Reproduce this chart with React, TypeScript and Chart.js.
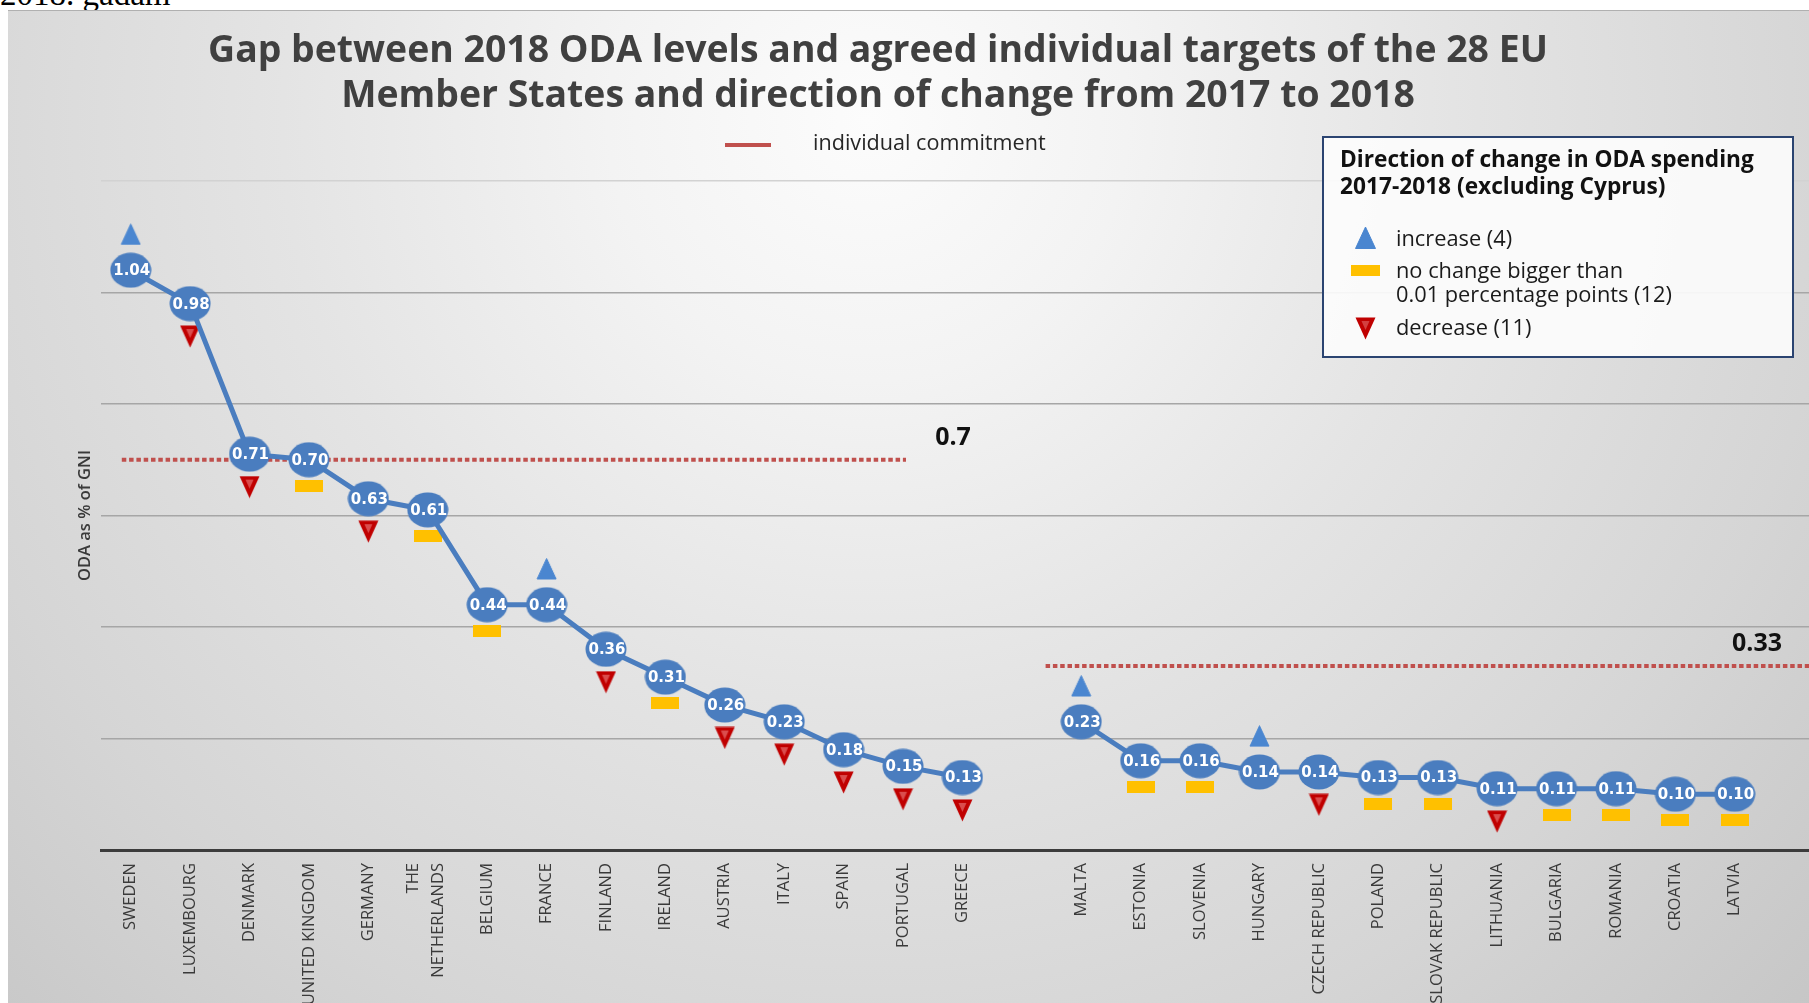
import React, { useEffect, useRef } from 'react';
import { Chart, registerables } from 'chart.js';

Chart.register(...registerables);

// ---------- data ----------
const countries: (string | string[])[] = [
  'SWEDEN', 'LUXEMBOURG', 'DENMARK', 'UNITED KINGDOM', 'GERMANY', ['THE', 'NETHERLANDS'], 'BELGIUM',
  'FRANCE', 'FINLAND', 'IRELAND', 'AUSTRIA', 'ITALY', 'SPAIN', 'PORTUGAL', 'GREECE', '',
  'MALTA', 'ESTONIA', 'SLOVENIA', 'HUNGARY', 'CZECH REPUBLIC', 'POLAND', 'SLOVAK REPUBLIC',
  'LITHUANIA', 'BULGARIA', 'ROMANIA', 'CROATIA', 'LATVIA',
];
const odaValues: (number | null)[] = [
  1.04, 0.98, 0.71, 0.70, 0.63, 0.61, 0.44, 0.44, 0.36, 0.31, 0.26, 0.23, 0.18, 0.15, 0.13, null,
  0.23, 0.16, 0.16, 0.14, 0.14, 0.13, 0.13, 0.11, 0.11, 0.11, 0.10, 0.10,
];
const changeDirection: (string | null)[] = [
  'up', 'down', 'down', 'flat', 'down', 'flat', 'flat', 'up', 'down', 'flat', 'down', 'down', 'down', 'down', 'down', null,
  'up', 'flat', 'flat', 'up', 'down', 'flat', 'flat', 'down', 'flat', 'flat', 'flat', 'flat',
];
const commitmentLevels = [0.7, 0.33];
const commitmentRanges = [[-0.15, 13.05], [15.4, 28.5]];
const commitmentLabels = ['0.7', '0.33'];
const yTicks = { min: 0, max: 1.2, step: 0.2 };

const titleLines = [
  'Gap between 2018 ODA levels and agreed individual targets of the 28 EU',
  'Member States and direction of change from 2017 to 2018',
];
const directionLegendTitle = ['Direction of change in ODA spending', '2017-2018 (excluding Cyprus)'];
const countOf = (d: string) => changeDirection.filter((x) => x === d).length;

// ---------- style ----------
const BLUE = '#4a7dbf';
const RED_LINE = '#c0504d';
const FONT = '"Open Sans", "DejaVu Sans", sans-serif';
const MARKER_OFFSET: Record<string, number> = { up: 0.065, down: -0.059, flat: -0.047 };
const MULTILINE_TICK_SHIFT = 0.236;

function makeCanvas(w: number, h: number, draw: (c: CanvasRenderingContext2D) => void) {
  const c = document.createElement('canvas');
  c.width = w;
  c.height = h;
  draw(c.getContext('2d') as CanvasRenderingContext2D);
  return c;
}

function UpTri({ x, y }: { x: number; y: number }) {
  return (
    <svg style={{ position: 'absolute', left: x - 10.5, top: y - 11.5 }} width={21} height={23}>
      <polygon points="10.5,1 20.5,22.5 0.5,22.5" fill="#4a86d0" stroke="#4a86d0" strokeLinejoin="round" strokeWidth={1} />
    </svg>
  );
}
function DownTri({ x, y }: { x: number; y: number }) {
  return (
    <svg style={{ position: 'absolute', left: x - 10.5, top: y - 11.5 }} width={21} height={23}>
      <polygon points="0.5,0.5 20.5,0.5 10.5,22.5" fill="#c00000" />
      <polygon points="6.5,4 14.5,4 10.5,13" fill="#dc5a5a" opacity={0.7} />
    </svg>
  );
}

export default function App() {
  const ref = useRef<HTMLCanvasElement>(null);

  useEffect(() => {
    document.documentElement.style.overflow = 'hidden';
    const canvas = ref.current;
    if (!canvas) return;

    const ellipseImg = makeCanvas(42, 36, (c) => {
      c.fillStyle = BLUE;
      c.beginPath();
      c.ellipse(21, 18, 20.5, 17.5, 0, 0, Math.PI * 2);
      c.fill();
    });
    const upImg = makeCanvas(21, 23, (c) => {
      c.fillStyle = '#4a86d0';
      c.strokeStyle = '#4a86d0';
      c.lineJoin = 'round';
      c.beginPath();
      c.moveTo(10.5, 1.5);
      c.lineTo(20, 22);
      c.lineTo(1, 22);
      c.closePath();
      c.fill();
      c.stroke();
    });
    const downImg = makeCanvas(21, 23, (c) => {
      c.fillStyle = '#c00000';
      c.beginPath();
      c.moveTo(0.5, 0.5);
      c.lineTo(20.5, 0.5);
      c.lineTo(10.5, 22.5);
      c.closePath();
      c.fill();
      c.fillStyle = 'rgba(230,110,110,0.7)';
      c.beginPath();
      c.moveTo(6.5, 4);
      c.lineTo(14.5, 4);
      c.lineTo(10.5, 13);
      c.closePath();
      c.fill();
    });
    const flatImg = makeCanvas(28, 12, (c) => {
      c.fillStyle = '#ffc000';
      c.fillRect(0, 0, 28, 12);
    });
    const markerImg: Record<string, HTMLCanvasElement> = { up: upImg, down: downImg, flat: flatImg };

    const bgPlugin = {
      id: 'bg',
      beforeDraw(chart: any) {
        const { ctx, width, height } = chart;
        const g = ctx.createRadialGradient(860, 110, 0, 860, 110, 1300);
        g.addColorStop(0, '#fcfcfc');
        g.addColorStop(0.2, '#f3f3f3');
        g.addColorStop(0.45, '#e4e4e4');
        g.addColorStop(0.75, '#d5d5d5');
        g.addColorStop(1, '#c6c6c6');
        ctx.save();
        ctx.fillStyle = g;
        ctx.fillRect(0, 0, width, height);
        ctx.restore();
      },
    };

    const labelPlugin = {
      id: 'labels',
      afterDatasetsDraw(chart: any) {
        const { ctx, chartArea } = chart;
        ctx.save();
        const meta = chart.getDatasetMeta(0);
        ctx.fillStyle = '#ffffff';
        ctx.font = 'bold 15px "DejaVu Sans", sans-serif';
        ctx.textAlign = 'center';
        ctx.textBaseline = 'middle';
        meta.data.forEach((pt: any, i: number) => {
          const v = odaValues[i];
          if (v == null) return;
          ctx.fillText(v.toFixed(2), pt.x + 1, pt.y + 1);
        });
        commitmentLabels.forEach((txt, k) => {
          const m = chart.getDatasetMeta(2 + k);
          const last = m.data[m.data.length - 1];
          const x = Math.min(last.x + 47, chartArea.right - 52);
          ctx.fillStyle = '#111111';
          ctx.font = `bold 25px ${FONT}`;
          ctx.fillText(txt, x, last.y - 22);
        });
        ctx.restore();
      },
    };

    const chart = new Chart(canvas, {
      type: 'line',
      data: {
        datasets: [
          {
            label: 'ODA as % of GNI',
            data: odaValues.map((v, i) => ({ x: i, y: v })) as any,
            borderColor: BLUE,
            borderWidth: 5,
            tension: 0,
            spanGaps: false,
            pointStyle: ellipseImg as any,
            pointRadius: 18,
            order: 0,
          },
          {
            label: 'direction of change',
            data: changeDirection.map((d, i) => {
              const v = odaValues[i];
              return { x: i, y: d && v != null ? v + MARKER_OFFSET[d] : null };
            }) as any,
            showLine: false,
            pointStyle: changeDirection.map((d) => (d ? markerImg[d] : flatImg)) as any,
            pointRadius: 10,
            order: 1,
          },
          ...commitmentLevels.map((lvl, k) => ({
            label: 'individual commitment',
            data: commitmentRanges[k].map((x) => ({ x, y: lvl })) as any,
            borderColor: RED_LINE,
            borderWidth: 4,
            borderDash: [4.5, 2.8],
            pointRadius: 0,
            order: 2,
          })),
        ],
      },
      options: {
        responsive: false,
        animation: false,
        events: [],
        devicePixelRatio: 1,
        layout: { autoPadding: false, padding: { top: 171, left: 67, right: 0, bottom: 0 } },
        plugins: {
          legend: { display: false },
          title: { display: false },
          tooltip: { enabled: false },
        },
        scales: {
          x: {
            type: 'linear',
            min: -0.5,
            max: 28.25,
            afterBuildTicks: (s: any) => {
              s.ticks = countries.map((c, i) => ({ value: Array.isArray(c) ? i - MULTILINE_TICK_SHIFT : i }));
            },
            afterFit: (s: any) => {
              s.height = 153;
              s.paddingLeft = 0;
              s.paddingRight = 0;
            },
            ticks: {
              autoSkip: false,
              minRotation: 90,
              maxRotation: 90,
              padding: 13,
              color: '#3a3a3a',
              font: { family: FONT, size: 16.5, lineHeight: 1.5 },
              callback: (v: any) => {
                const i = Math.round(Number(v));
                return countries[i] ?? '';
              },
            },
            grid: { display: false, drawTicks: false },
            border: { display: true, color: '#3c3c3c', width: 3 },
          },
          y: {
            min: yTicks.min,
            max: yTicks.max,
            afterFit: (s: any) => {
              s.width = 26;
            },
            ticks: { display: false, stepSize: yTicks.step },
            grid: {
              drawTicks: false,
              lineWidth: 1.5,
              color: (c: any) => (c.tick && Math.abs(c.tick.value - yTicks.max) < 1e-6 ? '#d2d2d2' : '#a6a6a6'),
            },
            border: { display: false },
            title: {
              display: true,
              text: 'ODA as % of GNI',
              color: '#3a3a3a',
              padding: 0,
              font: { family: FONT, size: 16.5, weight: '600' as any },
            },
          },
        },
      } as any,
      plugins: [bgPlugin, labelPlugin],
    });
    return () => chart.destroy();
  }, []);

  return (
    <div style={{ position: 'fixed', left: 0, top: 0, width: 1809, height: 1003, overflow: 'hidden', background: '#ffffff' }}>
      <div
        style={{
          position: 'absolute', left: 0, top: -22.5, fontFamily: '"Liberation Serif", "Times New Roman", serif',
          fontSize: 33, lineHeight: '33px', whiteSpace: 'nowrap', color: '#000',
        }}
      >
        2018. gadam
      </div>
      <div style={{ position: 'absolute', left: 8, top: 10, width: 1801, height: 993 }}>
        <canvas ref={ref} width={1801} height={993} style={{ display: 'block', width: 1801, height: 993 }} />
        <div style={{ position: 'absolute', left: 0, top: 0, width: 1801, height: 1, background: '#b0b0b0' }} />
        {/* title */}
        <div
          style={{
            position: 'absolute', left: 0, top: 14.5, width: 1740, textAlign: 'center', fontFamily: FONT,
            fontWeight: 700, fontSize: 37.4, lineHeight: '45px', color: '#404040', whiteSpace: 'nowrap',
          }}
        >
          {titleLines.map((t) => (
            <div key={t}>{t}</div>
          ))}
        </div>
        {/* individual commitment legend */}
        <div style={{ position: 'absolute', left: 717, top: 133, width: 46, height: 4, background: RED_LINE }} />
        <div
          style={{
            position: 'absolute', left: 805, top: 119, fontFamily: FONT, fontSize: 21.6, lineHeight: '26px',
            color: '#262626', whiteSpace: 'nowrap',
          }}
        >
          individual commitment
        </div>
        {/* direction legend box */}
        <div
          style={{
            position: 'absolute', left: 1314, top: 126, width: 472, height: 222, boxSizing: 'border-box',
            border: '2px solid #2b4471', background: 'rgba(252,252,252,0.92)', fontFamily: FONT, color: '#1a1a1a',
          }}
        >
          <div
            style={{
              position: 'absolute', left: 16, top: 6.5, fontWeight: 700, fontSize: 22.7, lineHeight: '27.5px',
              whiteSpace: 'nowrap', color: '#111',
            }}
          >
            {directionLegendTitle.map((t) => (
              <div key={t}>{t}</div>
            ))}
          </div>
          <UpTri x={41} y={99} />
          <div style={{ position: 'absolute', left: 27, top: 127, width: 29, height: 11, background: '#ffc000' }} />
          <DownTri x={41} y={190} />
          <div style={{ position: 'absolute', left: 72, top: 88, fontSize: 21.8, lineHeight: '24px', whiteSpace: 'nowrap' }}>
            {`increase (${countOf('up')})`}
          </div>
          <div style={{ position: 'absolute', left: 72, top: 120, fontSize: 21.8, lineHeight: '24px', whiteSpace: 'nowrap' }}>
            no change bigger than
            <br />
            {`0.01 percentage points (${countOf('flat')})`}
          </div>
          <div style={{ position: 'absolute', left: 72, top: 176.5, fontSize: 21.8, lineHeight: '24px', whiteSpace: 'nowrap' }}>
            {`decrease (${countOf('down')})`}
          </div>
        </div>
      </div>
    </div>
  );
}
